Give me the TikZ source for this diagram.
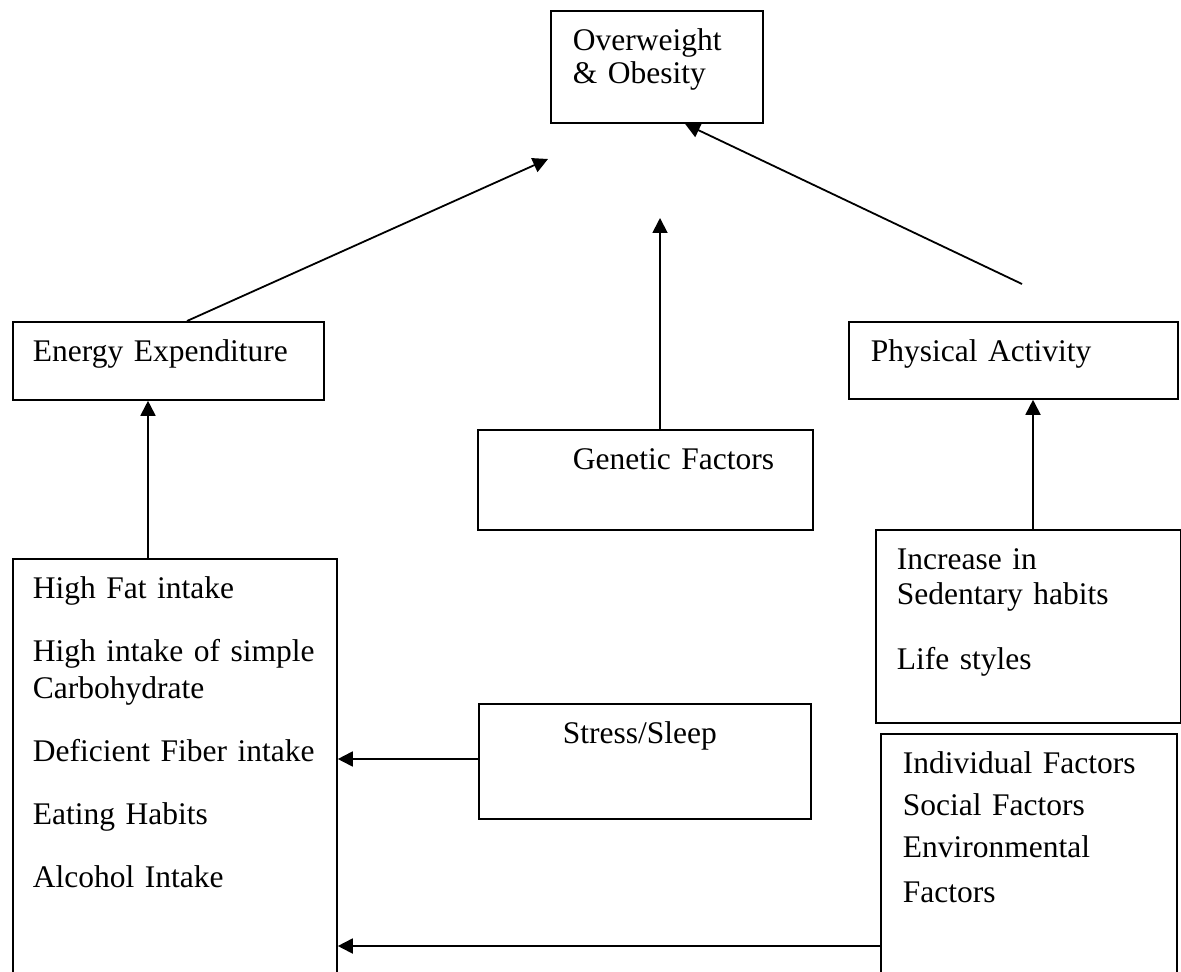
\documentclass[tikz,border=0pt]{standalone}
\usepackage{fontspec}
\setmainfont{Liberation Serif}
\usetikzlibrary{arrows.meta,positioning}

\begin{document}
\begin{tikzpicture}[
    x=0.5pt,y=-0.5pt,
    factor/.style={draw,line width=0.9pt,anchor=north west,align=left,
      inner ysep=0pt,inner xsep=10.5pt,text height=20pt,
      font=\fontsize{15.75}{18.5}\selectfont},
    arrow/.style={-{Triangle[length=7.5pt,width=7.5pt]},line width=0.9pt}
  ]
    \useasboundingbox (0,0) rectangle (1181,972);
    \clip (0,0) rectangle (1181,972);
    % outcome
    \node[factor,inner xsep=11pt,text width=84pt,text depth=36pt] (ow) at (550,10)
      {Overweight\\[-2pt]\& Obesity};
    % middle row
    \node[factor,inner xsep=10pt,text width=135.5pt,text depth=19pt] (ee) at (12,321)
      {Energy Expenditure};
    \node[factor,inner xsep=11pt,text width=142.5pt,text depth=18.5pt] (pa) at (848,321)
      {Physical Activity};
    \node[factor,inner xsep=10pt,text width=147.5pt,text depth=30pt] (ge) at (477,429)
      {\hspace*{37.5pt}Genetic Factors};
    % causes
    \node[factor,inner xsep=10pt,text width=142pt,text depth=200pt] (diet) at (12,558)
      {High Fat intake\\[13pt]
       High intake of simple\\Carbohydrate\\[13pt]
       Deficient Fiber intake\\[13pt]
       Eating Habits\\[13pt]
       Alcohol Intake};
    \node[factor,inner xsep=10.5pt,text width=131.5pt,text depth=76.5pt] (sed) at (875,529)
      {Increase in\\[-1pt]Sedentary habits\\[14pt]Life styles};
    \node[factor,inner xsep=10pt,text width=146pt,text depth=37.5pt] (ss) at (478,703)
      {\hspace*{32pt}Stress/Sleep};
    \node[factor,inner xsep=11pt,text width=126pt,text depth=110pt] (env) at (880,733)
      {Individual Factors\\[2.5pt]Social Factors\\[2.5pt]Environmental\\[4pt]Factors};
    % loose ends
    \coordinate (eetip) at (548,159);
    \coordinate (getip) at (660,218);
    \coordinate (patail) at (1022,284);
    % connectors
    \draw[arrow] (ee.north -| 187,0) -- (eetip);
    \draw[arrow] (ge.north -| getip) -- (getip);
    \draw[arrow] (patail) -- (ow.south -| 685,0);
    \draw[arrow] (diet.north -| 148,0) -- (ee.south -| 148,0);
    \draw[arrow] (sed.north -| 1033,0) -- (pa.south -| 1033,0);
    \draw[arrow] (ss.west |- 0,759) -- (diet.east |- 0,759);
    \draw[arrow] (env.west |- 0,946) -- (diet.east |- 0,946);
\end{tikzpicture}
\end{document}
